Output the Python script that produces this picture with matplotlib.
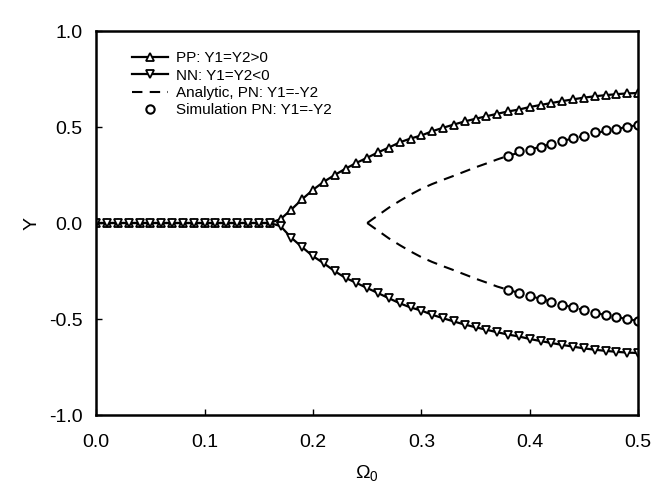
import numpy as np
import matplotlib
matplotlib.use("Agg")
import matplotlib.pyplot as plt

plt.rcParams['font.family'] = ['Liberation Sans', 'DejaVu Sans']
plt.rcParams['mathtext.fontset'] = 'custom'
plt.rcParams['mathtext.rm'] = 'Liberation Sans'
plt.rcParams['mathtext.it'] = 'Liberation Sans'


#> Data
omegaGrid = [round(0.01 * i, 2) for i in range(51)]
ppValues = [0.0] * 17 + [0.020, 0.070, 0.124, 0.173, 0.215, 0.250, 0.283, 0.313, 0.340, 0.368,
                         0.393, 0.420, 0.440, 0.456, 0.478, 0.496, 0.513, 0.529, 0.543, 0.556,
                         0.569, 0.581, 0.591, 0.604, 0.615, 0.625, 0.635, 0.644, 0.653, 0.660,
                         0.666, 0.671, 0.675, 0.677]
nnValues = [0.0] * 17 + [-0.016, -0.077, -0.126, -0.173, -0.210, -0.251, -0.286, -0.312, -0.339, -0.365,
                         -0.392, -0.418, -0.440, -0.456, -0.478, -0.496, -0.513, -0.529, -0.543, -0.556,
                         -0.569, -0.581, -0.591, -0.604, -0.615, -0.625, -0.635, -0.644, -0.653, -0.660,
                         -0.666, -0.671, -0.675, -0.677]

analyticOmega = [0.25, 0.26, 0.27, 0.28, 0.29, 0.30, 0.31, 0.32, 0.33, 0.34, 0.35, 0.36, 0.37, 0.38,
                 0.40, 0.42, 0.44, 0.46, 0.48, 0.50]
analyticUpper = [0.0, 0.040, 0.080, 0.115, 0.148, 0.178, 0.203, 0.225, 0.246, 0.268, 0.290, 0.310, 0.331, 0.350,
                 0.382, 0.412, 0.441, 0.468, 0.490, 0.511]
analyticLower = [0.0, -0.040, -0.080, -0.115, -0.148, -0.178, -0.203, -0.225, -0.246, -0.268, -0.290, -0.310, -0.331, -0.348,
                 -0.380, -0.410, -0.440, -0.468, -0.490, -0.510]

simOmega = [0.38, 0.39, 0.40, 0.41, 0.42, 0.43, 0.44, 0.45, 0.46, 0.47, 0.48, 0.49, 0.50]
simUpper = [0.351, 0.373, 0.382, 0.398, 0.412, 0.429, 0.441, 0.455, 0.473, 0.482, 0.490, 0.499, 0.511]
simLower = [-0.347, -0.365, -0.380, -0.398, -0.410, -0.425, -0.440, -0.455, -0.470, -0.480, -0.490, -0.500, -0.510]

xTicks = [0.0, 0.1, 0.2, 0.3, 0.4, 0.5]
yTicks = [-1.0, -0.5, 0.0, 0.5, 1.0]


#> Plot
fig = plt.figure(figsize=(6.64, 5.0), dpi=100)
ax = fig.add_axes([0.145, 0.17, 0.816, 0.768])

markerStyle = dict(markersize=6, markerfacecolor='white', markeredgecolor='black', markeredgewidth=1.3)
circleStyle = dict(markersize=6, markerfacecolor='white', markeredgecolor='black', markeredgewidth=1.5)
ax.plot(omegaGrid, ppValues, color='black', linewidth=1.6, marker='^', label='PP: Y1=Y2>0', **markerStyle)
ax.plot(omegaGrid, nnValues, color='black', linewidth=1.6, marker='v', label='NN: Y1=Y2<0', **markerStyle)
ax.plot(analyticOmega, analyticUpper, color='black', linewidth=1.5, linestyle=(0, (5, 3.5)),
        label='Analytic, PN: Y1=-Y2')
ax.plot(analyticOmega, analyticLower, color='black', linewidth=1.5, linestyle=(0, (5, 3.5)))
ax.plot(simOmega, simUpper, linestyle='none', marker='o', label='Simulation PN: Y1=-Y2', **circleStyle)
ax.plot(simOmega, simLower, linestyle='none', marker='o', **circleStyle)

ax.set_xlim(0.0, 0.5)
ax.set_ylim(-1.0, 1.0)
ax.set_xticks(xTicks, [f'{t:.1f}' for t in xTicks])
ax.set_yticks(yTicks, [f'{t:.1f}' for t in yTicks])
ax.tick_params(axis='both', direction='in', length=4, width=1, labelsize=14)
ax.tick_params(axis='x', pad=14)
ax.tick_params(axis='y', pad=10)
for spine in ax.spines.values():
    spine.set_linewidth(1.8)

ax.set_xlabel(r'$\mathrm{\Omega}_0$', fontsize=14, labelpad=8)
ax.set_ylabel('Y', fontsize=14, labelpad=6)

ax.legend(loc='upper left', frameon=False, fontsize=11, handlelength=2.4, handletextpad=0.5,
          labelspacing=0.22, borderaxespad=0.5, bbox_to_anchor=(0.04, 0.983))

fig.savefig('out.png', dpi=100)
